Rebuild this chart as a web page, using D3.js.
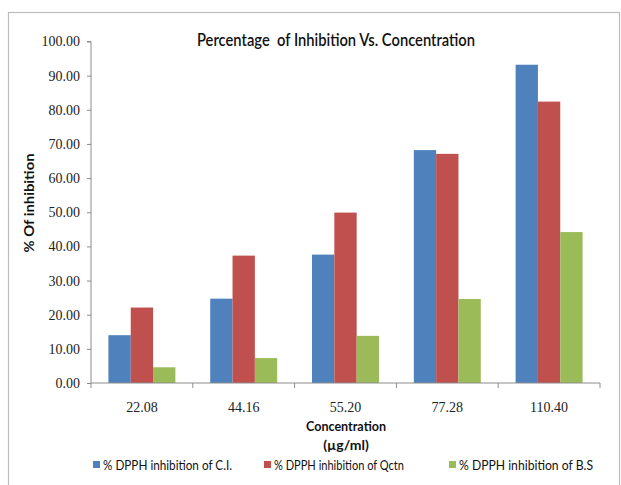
<!DOCTYPE html>
<html><head><meta charset="utf-8">
<script src="https://cdn.jsdelivr.net/npm/d3@7"></script>
<style>body{margin:0;background:#fff}svg{display:block}</style>
</head><body>
<svg id="c" width="621" height="485"></svg>
<script>
const categories = ["22.08", "44.16", "55.20", "77.28", "110.40"];
const seriesNames = ["% DPPH inhibition of C.I.", "% DPPH inhibition of Qctn", "% DPPH inhibition of B.S"];
const ciValues   = [14.0, 24.7, 37.6, 68.2, 93.2];
const qctnValues = [22.1, 37.3, 49.9, 67.1, 82.4];
const bsValues   = [4.6, 7.3, 13.8, 24.6, 44.2];
const seriesColors = ["#4F81BD", "#C0504D", "#9BBB59"];
const yTicks = [0,10,20,30,40,50,60,70,80,90,100];

const series = [ciValues, qctnValues, bsValues];
const svg = d3.select("#c");
const m = {left: 91, right: 600, top: 41.5, bottom: 383};

svg.append("rect").attr("x",8.5).attr("y",12.5).attr("width",611).attr("height",490)
  .attr("fill","none").attr("stroke","#bdbdbd").attr("stroke-width",1.2);

const x = d3.scaleBand().domain(categories).range([m.left, m.right]).paddingInner(0).paddingOuter(0);
const xs = d3.scaleBand().domain(d3.range(series.length)).range([0, x.bandwidth()]).paddingInner(0).paddingOuter(0.78);
const y = d3.scaleLinear().domain([0,100]).range([m.bottom, m.top]);

// bars
series.forEach((vals, si) => {
  svg.append("g").selectAll("rect").data(vals).join("rect")
    .attr("x", (d,i) => x(categories[i]) + xs(si))
    .attr("y", d => y(d))
    .attr("width", xs.bandwidth())
    .attr("height", d => y(0) - y(d))
    .attr("fill", seriesColors[si]);
});

const serif = "'Liberation Serif','DejaVu Serif',serif";
// y axis
const yAxis = d3.axisLeft(y).tickValues(yTicks).tickFormat(d3.format(".2f")).tickSize(4).tickPadding(7);
const gy = svg.append("g").attr("transform",`translate(${m.left},0)`).call(yAxis);
gy.select(".domain").attr("stroke","#8c8c8c").attr("d",`M-4,${m.top}H0V${m.bottom}`);
gy.selectAll(".tick line").attr("stroke","#8c8c8c");
gy.selectAll(".tick text").attr("font-family",serif).attr("font-size",14).attr("fill","#222");

// x axis
const gx = svg.append("g").attr("transform",`translate(0,${m.bottom})`);
gx.append("line").attr("x1",m.left).attr("x2",m.right).attr("stroke","#8c8c8c");
const bounds = [m.left].concat(categories.map(c => x(c) + x.bandwidth()));
gx.selectAll("line.tk").data(bounds).join("line").attr("class","tk")
  .attr("x1",d=>d).attr("x2",d=>d).attr("y1",0).attr("y2",5).attr("stroke","#8c8c8c");
gx.selectAll("text").data(categories).join("text")
  .attr("x", d => x(d) + x.bandwidth()/2).attr("y", 29)
  .attr("text-anchor","middle").attr("font-family",serif)
  .attr("font-size",14).attr("fill","#222").text(d=>d);

const sans = "Lato,'Open Sans','Liberation Sans',sans-serif";
// title
svg.append("text").attr("x",336).attr("y",46).attr("text-anchor","middle")
  .attr("font-family",sans).attr("font-size",17).attr("fill","#111").attr("font-weight","600")
  .attr("textLength",278).attr("lengthAdjust","spacingAndGlyphs")
  .style("white-space","pre")
  .text("Percentage  of Inhibition Vs. Concentration");

// axis titles
svg.append("text").attr("transform","translate(34,203) rotate(-90)").attr("text-anchor","middle")
  .attr("font-family",sans).attr("font-size",14).attr("font-weight","bold").attr("fill","#111")
  .attr("textLength",99).attr("lengthAdjust","spacingAndGlyphs")
  .text("% Of inhibition");
svg.append("text").attr("x",346).attr("y",431).attr("text-anchor","middle")
  .attr("font-family",sans).attr("font-size",14).attr("font-weight","bold").attr("fill","#111")
  .attr("textLength",80).attr("lengthAdjust","spacingAndGlyphs")
  .text("Concentration");
svg.append("text").attr("x",346).attr("y",450).attr("text-anchor","middle")
  .attr("font-family",sans).attr("font-size",14).attr("font-weight","bold").attr("fill","#111")
  .text("(µg/ml)");

// legend
const legX = [93, 264, 449];
const legW = [129, 130, 134];
const lg = svg.append("g").selectAll("g").data(seriesNames).join("g")
  .attr("transform",(d,i)=>`translate(${legX[i]},465)`);
lg.append("rect").attr("x",0).attr("y",-4).attr("width",7).attr("height",7).attr("fill",(d,i)=>seriesColors[i]);
lg.append("text").attr("x",10).attr("y",4.5).attr("font-family",sans).attr("font-size",13).attr("fill","#111")
  .attr("textLength",(d,i)=>legW[i]).attr("lengthAdjust","spacingAndGlyphs").text(d=>d);
</script>
</body></html>
